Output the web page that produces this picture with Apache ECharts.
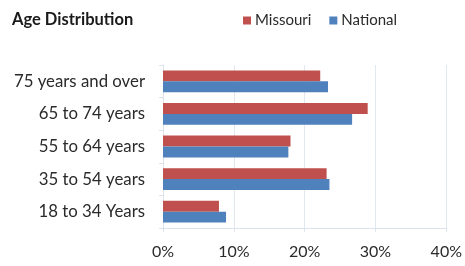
<!DOCTYPE html>
<html><head><meta charset="utf-8">
<script src="https://cdn.jsdelivr.net/npm/echarts@6/dist/echarts.min.js"></script>
<style>html,body{margin:0;padding:0;background:#fff}#c{width:465px;height:266px}</style>
</head><body><div id="c"></div>
<script>
const categories = ['18 to 34 Years', '35 to 54 years', '55 to 64 years', '65 to 74 years', '75 years and over'];
const missouri = [7.9, 23.1, 18.0, 28.9, 22.2];
const national = [8.9, 23.5, 17.7, 26.7, 23.3];
const xTicks = [0, 10, 20, 30, 40];

const font = 'Lato, "Open Sans", sans-serif';
const chart = echarts.init(document.getElementById('c'), null, {renderer: 'canvas'});
chart.setOption({
  animation: false,
  title: {text: 'Age Distribution', left: 7, top: 6,
    textStyle: {fontFamily: font, fontSize: 16.5, fontWeight: 'bold', color: '#1a1a1a'}},
  legend: {data: ['Missouri', 'National'], left: 238, top: 8, itemWidth: 8, itemHeight: 8, itemGap: 18,
    icon: 'rect', textStyle: {fontFamily: font, fontSize: 15, color: '#2a2a2a', padding: [0, 0, 0, -1]}},
  grid: {left: 163, right: 17, top: 65, bottom: 38},
  xAxis: {type: 'value', min: xTicks[0], max: xTicks[xTicks.length - 1], interval: 10,
    axisLabel: {formatter: '{value}%', fontFamily: font, fontSize: 16, color: '#2a2a2a', margin: 16},
    splitLine: {lineStyle: {color: '#e2e8ef'}},
    axisLine: {show: true, lineStyle: {color: '#dde3ea'}},
    axisTick: {show: true, length: 4, lineStyle: {color: '#dde3ea'}}},
  yAxis: {type: 'category', data: categories,
    axisLabel: {fontFamily: font, fontSize: 16.8, color: '#2a2a2a', margin: 18},
    axisLine: {show: true, lineStyle: {color: '#dde3ea'}},
    axisTick: {show: true, length: 4, lineStyle: {color: '#dde3ea'}}},
  series: [
    {name: 'Missouri', type: 'bar', data: missouri, itemStyle: {color: '#C0504D'}, barGap: '0%', barCategoryGap: '33%'},
    {name: 'National', type: 'bar', data: national, itemStyle: {color: '#4F81BD'}, barGap: '0%', barCategoryGap: '33%'}
  ]
});
</script></body></html>
